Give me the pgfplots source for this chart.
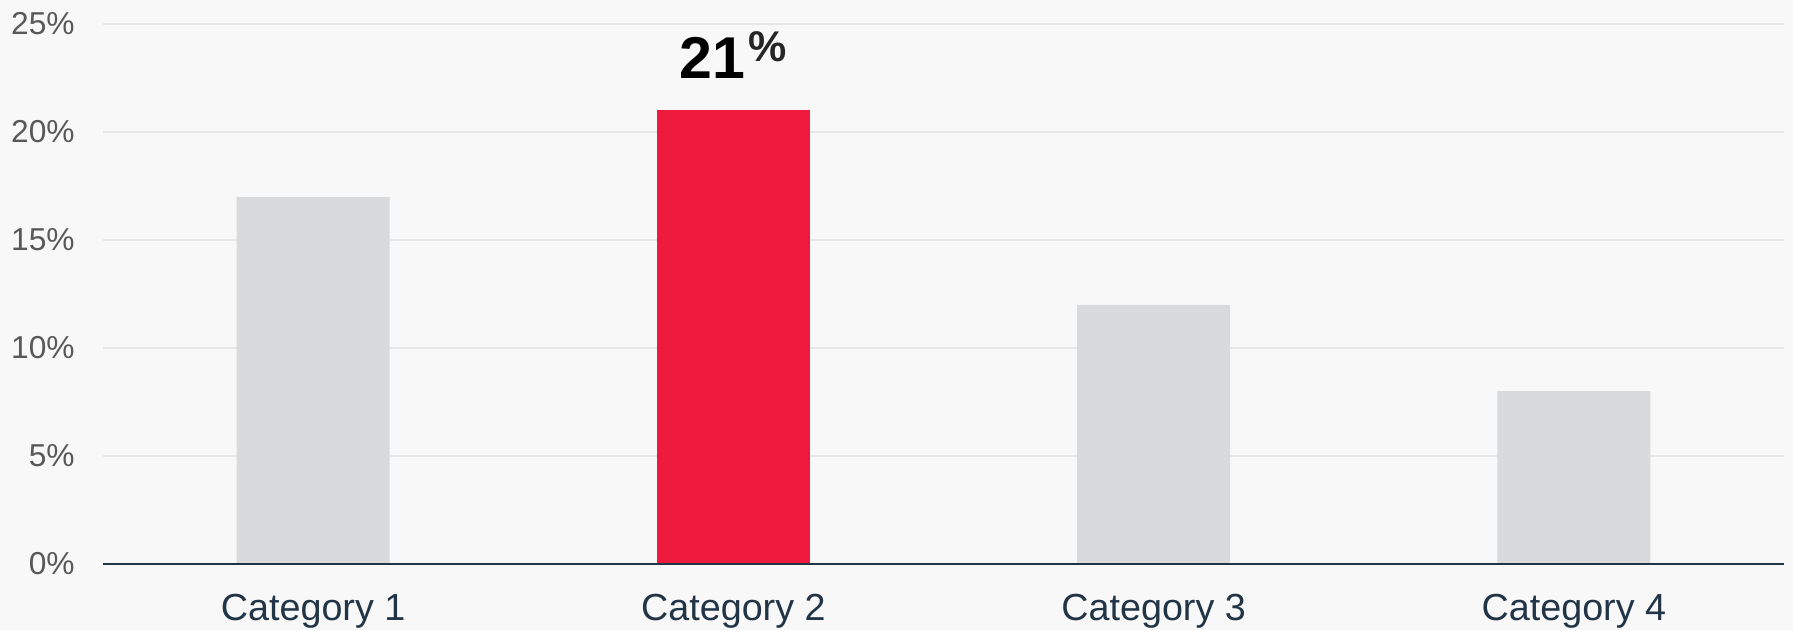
\documentclass[border=0pt]{standalone}
\usepackage{pgfplots}
\pgfplotsset{compat=1.18}
\usepackage{fontspec}
\setmainfont{Liberation Sans}
\definecolor{bg}{HTML}{F8F8F8}
\definecolor{gridc}{HTML}{E6E6E6}
\definecolor{barg}{HTML}{D9DADC}
\definecolor{barr}{HTML}{EE1A3D}
\definecolor{navy}{HTML}{213547}
\definecolor{tickg}{HTML}{595959}
\begin{document}
\begin{tikzpicture}
\useasboundingbox[fill=bg] (0,0) rectangle (896.5pt,315pt);
\begin{axis}[
  at={(51.5pt,33pt)}, anchor=south west,
  scale only axis, width=840.5pt, height=270pt,
  xmin=-0.5, xmax=3.5, ymin=0, ymax=25,
  /pgf/number format/assume math mode=true,
  xtick={0,1,2,3},
  xticklabels={Category 1,Category 2,Category 3,Category 4},
  ytick={0,5,10,15,20,25},
  yticklabels={0\%,5\%,10\%,15\%,20\%,25\%},
  major tick length=0pt,
  axis line style={draw=none},
  ymajorgrids, major grid style={gridc, line width=1pt},
  ybar, bar width=76.5pt, bar shift=0pt,
  xticklabel style={font=\fontsize{18.85}{20}\selectfont, text=navy, inner sep=0pt, anchor=north, yshift=-15pt},
  yticklabel style={font=\fontsize{15.85}{18}\selectfont, text=tickg, inner sep=0pt, anchor=east, xshift=-14pt},
  clip=false,
]
\addplot[fill=barg, draw=none] coordinates {(0,17) (2,12) (3,8)};
\addplot[fill=barr, draw=none,
  nodes near coords={\fontsize{29.5}{30}\selectfont\bfseries\pgfmathprintnumber{\pgfplotspointmeta}\raisebox{8.5pt}{\hspace{1.5pt}\fontsize{21.5}{22}\selectfont\color{black!85}\%}},
  nodes near coords style={anchor=south, inner sep=0pt, yshift=15.7pt, text=black}]
  coordinates {(1,21)};
\draw[navy, line width=1pt] (axis cs:-0.5,0) -- (axis cs:3.5,0);
\end{axis}
\end{tikzpicture}
\end{document}
